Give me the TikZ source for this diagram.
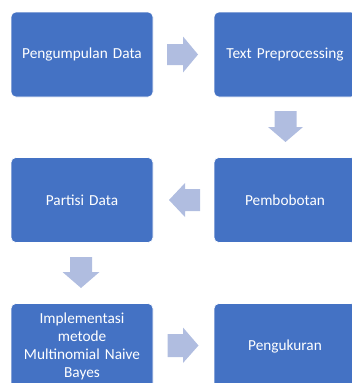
\documentclass[tikz,border=0pt]{standalone}
\usepackage{fontspec}
\setmainfont{Carlito}
\definecolor{boxblue}{HTML}{4472C4}
\definecolor{arrowblue}{HTML}{B0BDE0}
\tikzset{
  x=1pt,y=-1pt,
  stepbox/.style={draw=white,line width=0.6pt,fill=boxblue,rounded corners=5pt,
    minimum width=142pt,minimum height=85pt,text=white,font=\fontsize{15.3}{18}\selectfont,
    align=center,text width=130pt,inner sep=0pt},
  flow/.style={fill=arrowblue,draw=none},
}
\begin{document}
\begin{tikzpicture}
\useasboundingbox (0,0) rectangle (351,383);
\node[stepbox] (n1) at (82,54.5) {Pengumpulan Data};
\node[stepbox] (n2) at (285,54.5) {Text Preprocessing};
\node[stepbox] (n3) at (285,200) {Pembobotan};
\node[stepbox] (n4) at (82,200) {Partisi Data};
\node[stepbox] (n5) at (82,346) {Implementasi\\metode\\Multinomial Naive\\Bayes};
\node[stepbox] (n6) at (285,346) {Pengukuran};
% block arrows
\fill[flow] (167,44) -- (183,44) -- (183,36.5) -- (198,54.5) -- (183,72.5) -- (183,65) -- (167,65) -- cycle;
\fill[flow] (274.5,111) -- (296.5,111) -- (296.5,127) -- (303,127) -- (285.5,142) -- (268,127) -- (274.5,127) -- cycle;
\fill[flow] (200,189) -- (185,189) -- (185,183) -- (169,200) -- (185,217) -- (185,211) -- (200,211) -- cycle;
\fill[flow] (70,257) -- (92,257) -- (92,272) -- (99.5,272) -- (81,288) -- (62.5,272) -- (70,272) -- cycle;
\fill[flow] (167.5,334) -- (183,334) -- (183,327.5) -- (198.5,345.5) -- (183,363) -- (183,357) -- (167.5,357) -- cycle;
\end{tikzpicture}
\end{document}
